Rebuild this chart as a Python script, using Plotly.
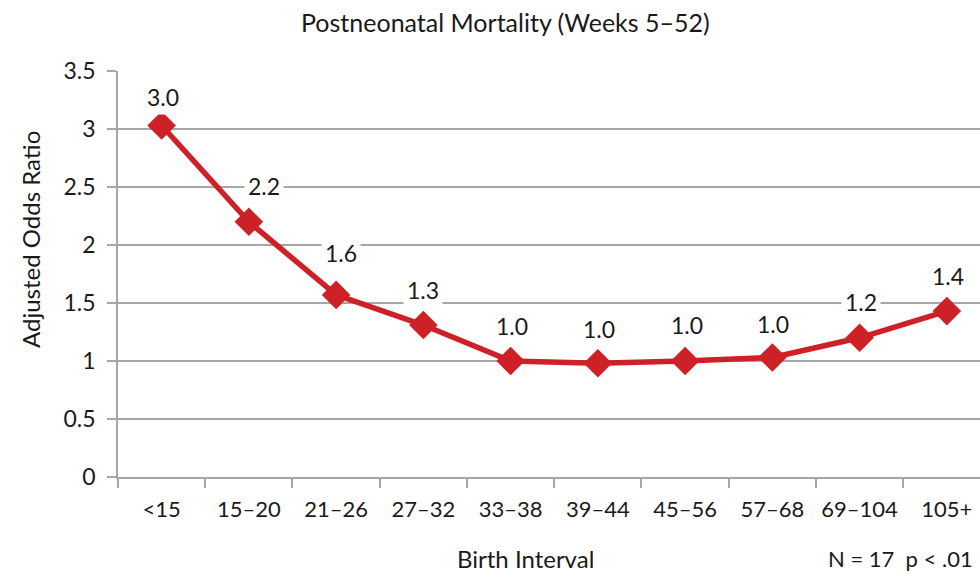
import plotly.graph_objects as go

categories = ["<15", "15–20", "21–26", "27–32", "33–38", "39–44", "45–56", "57–68", "69–104", "105+"]
odds = [3.03, 2.20, 1.57, 1.31, 1.00, 0.98, 1.00, 1.03, 1.20, 1.43]
labels = ["3.0", "2.2", "1.6", "1.3", "1.0", "1.0", "1.0", "1.0", "1.2", "1.4"]

# label placement offsets (pixels), style only
label_dx = [1, 15, 5, 0, 1, 1, 2, 1, 1, 1]
label_dy = [29, 36, 42, 35, 35, 34, 36, 34, 36, 35]

FONT = "Lato"
RED = "#CE2027"
GRID = "#A6A6A6"
TXT = "#1a1a1a"

fig = go.Figure()
fig.add_trace(go.Scatter(
    x=categories, y=odds, mode="lines+markers",
    line=dict(color=RED, width=5.5),
    marker=dict(symbol="diamond", size=22, color=RED),
    hoverinfo="skip", showlegend=False,
))

for c, v, t, dx, dy in zip(categories, odds, labels, label_dx, label_dy):
    fig.add_annotation(x=c, y=v, text=t, showarrow=False, xshift=dx, yshift=dy,
                       xanchor="center", yanchor="middle",
                       bgcolor="white", borderpad=3,
                       font=dict(family=FONT, size=23, color=TXT))

fig.add_annotation(text="Postneonatal Mortality (Weeks 5–52)", xref="paper", yref="paper",
                   x=(505 - 118) / 862, y=1, yshift=49, xanchor="center", yanchor="middle",
                   showarrow=False, font=dict(family=FONT, size=25, color=TXT))
fig.add_annotation(text="Birth Interval", xref="paper", yref="paper",
                   x=(525 - 118) / 862, y=0, yshift=-81, xanchor="center", yanchor="middle",
                   showarrow=False, font=dict(family=FONT, size=24, color=TXT))
fig.add_annotation(text="N = 17  p < .01", xref="paper", yref="paper",
                   x=1, xanchor="right", y=0, yshift=-81, yanchor="middle", xshift=-5,
                   showarrow=False, font=dict(family=FONT, size=22, color=TXT))
fig.add_annotation(text="Adjusted Odds Ratio", xref="paper", yref="paper",
                   x=0, xshift=-88, y=(477 - 240) / 406, xanchor="center", yanchor="middle",
                   textangle=-90, showarrow=False,
                   font=dict(family=FONT, size=24, color=TXT))

fig.update_layout(
    width=980, height=574,
    margin=dict(l=118, r=0, t=71, b=97, autoexpand=False),
    paper_bgcolor="white", plot_bgcolor="white",
    font=dict(family=FONT, size=22, color=TXT),
    xaxis=dict(type="category", range=[-0.5, 9.38], tickson="boundaries",
               showgrid=False, showline=True, linecolor=GRID, linewidth=1.5,
               ticks="outside", ticklen=9, tickcolor=GRID, tickwidth=1.5,
               tickangle=0, automargin=False, ticklabelstandoff=12,
               tickfont=dict(family=FONT, size=22, color=TXT)),
    yaxis=dict(range=[0, 3.5], dtick=0.5, showgrid=True, gridcolor=GRID, gridwidth=1.5,
               showline=True, linecolor=GRID, linewidth=1.5, zeroline=False,
               ticks="outside", ticklen=9, tickcolor=GRID, tickwidth=1.5,
               automargin=False, ticklabelstandoff=7,
               tickfont=dict(family=FONT, size=23, color=TXT), tickformat="~g"),
)

fig.write_html("out.html", config={"displayModeBar": False},
               post_script="document.body.style.margin='0';document.body.style.overflow='hidden';")
